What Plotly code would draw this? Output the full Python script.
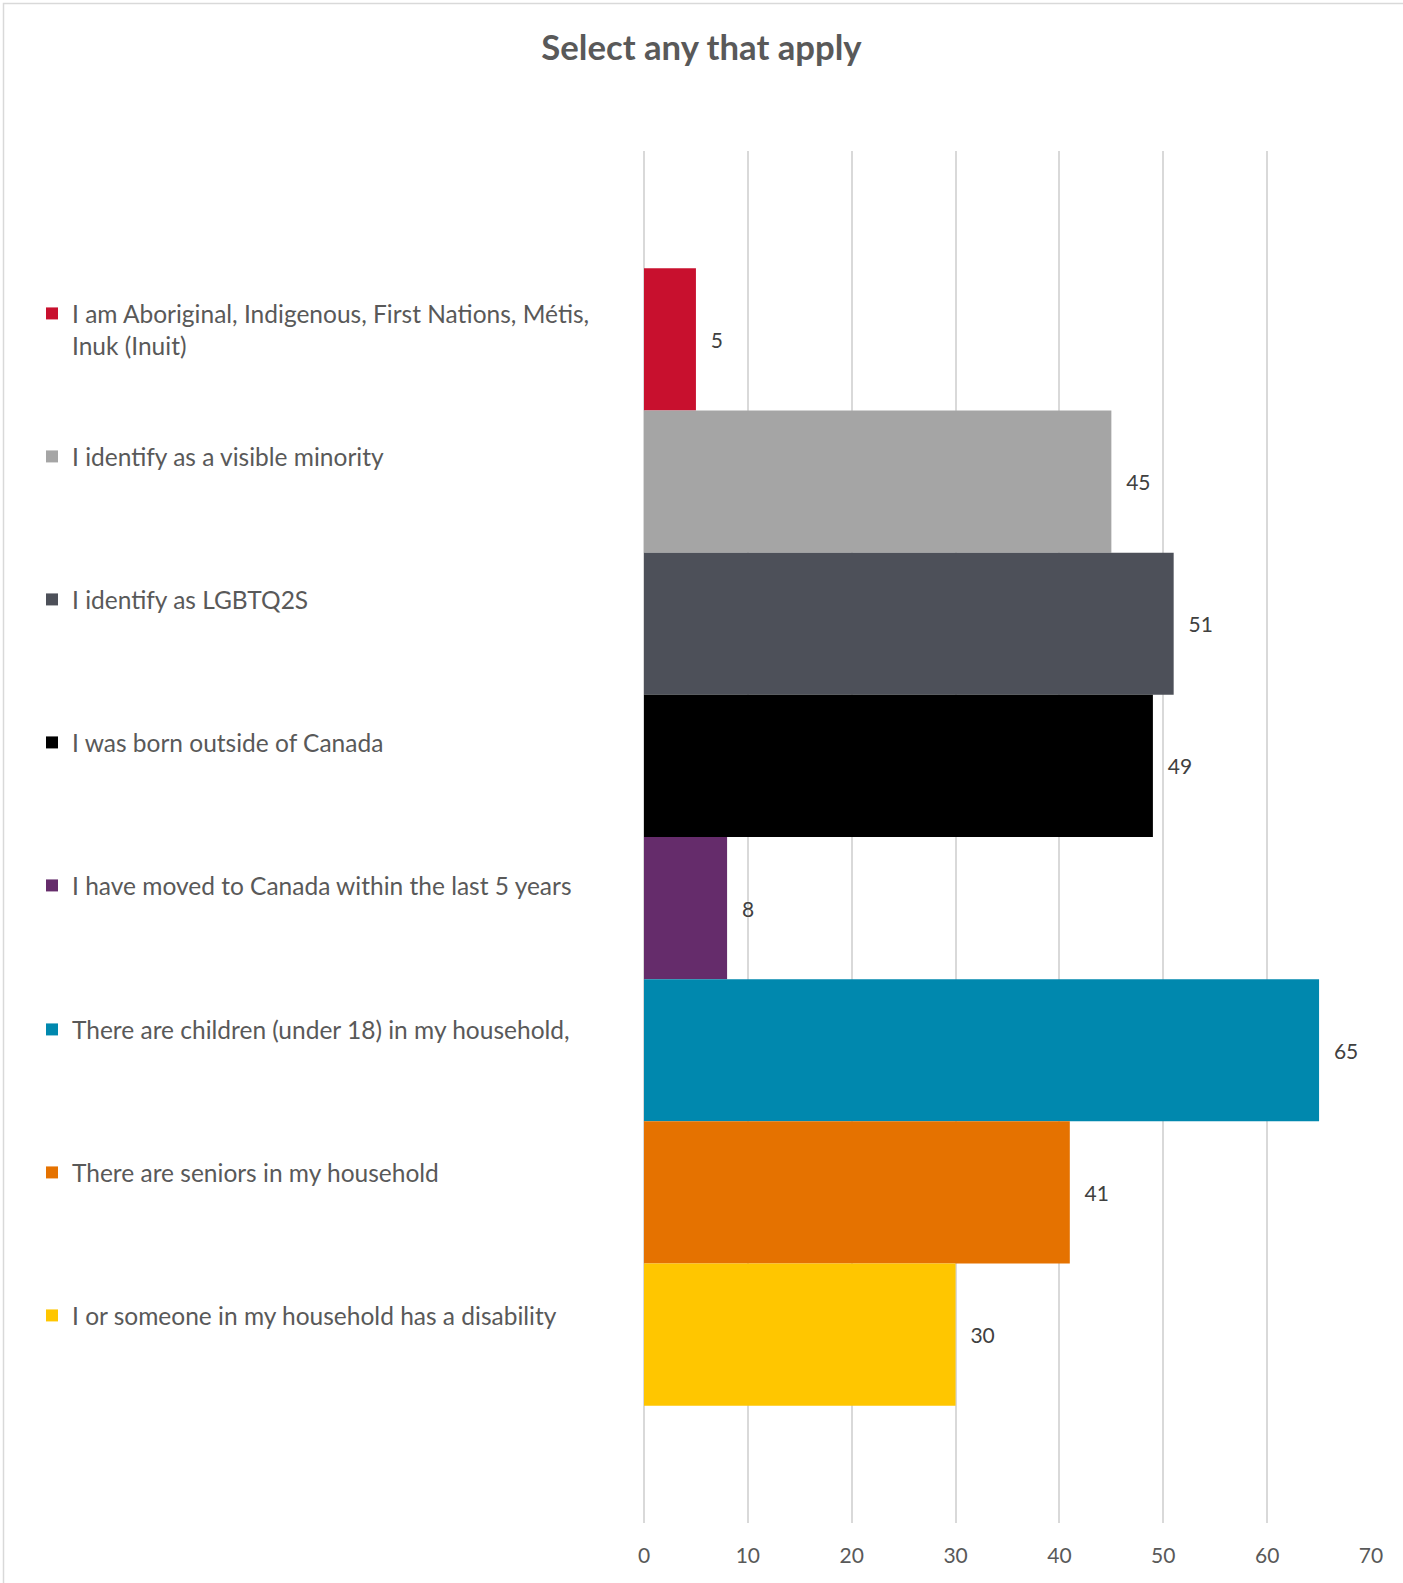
import plotly.graph_objects as go

# Survey responses: "Select any that apply"
categories = [
    "I am Aboriginal, Indigenous, First Nations, Métis,<br>Inuk (Inuit)",
    "I identify as a visible minority",
    "I identify as LGBTQ2S",
    "I was born outside of Canada",
    "I have moved to Canada within the last 5 years",
    "There are children (under 18) in my household,",
    "There are seniors in my household",
    "I or someone in my household has a disability",
]
counts = [5, 45, 51, 49, 8, 65, 41, 30]
colors = ["#C8102E", "#A5A5A5", "#4D5059", "#000000",
          "#652C6B", "#0088AE", "#E57200", "#FFC600"]
tick_values = [0, 10, 20, 30, 40, 50, 60, 70]

W, H = 1403, 1583
PLOT_L, PLOT_R, PLOT_T, PLOT_B = 644, 1371, 151, 1523

FONT = "Lato, 'Open Sans', sans-serif"
TEXT_GREY = "#595959"

fig = go.Figure()

legend_tops = [291, 434, 577, 720, 863, 1007, 1150, 1293]

for i, (name, val, col) in enumerate(zip(categories, counts, colors)):
    lg = "legend" if i == 0 else f"legend{i + 1}"
    fig.add_trace(go.Bar(
        orientation="h",
        y=["all"],
        x=[val],
        name=name,
        marker=dict(color=col, line=dict(width=0)),
        text=[val],
        texttemplate="\u2002\u200a%{x}",
        textposition="outside",
        textfont=dict(family=FONT, size=21, color="#404040"),
        cliponaxis=False,
        legend=lg,
        showlegend=True,
        hoverinfo="x+name",
    ))

layout_legends = {}
for i, top in enumerate(legend_tops):
    key = "legend" if i == 0 else f"legend{i + 1}"
    layout_legends[key] = dict(
        xref="container", yref="container",
        x=32 / W, y=1 - top / H,
        xanchor="left", yanchor="top",
        bgcolor="rgba(0,0,0,0)",
        borderwidth=0,
        valign="top",
        font=dict(family=FONT, size=24.5, color=TEXT_GREY),
        itemclick=False, itemdoubleclick=False,
    )

fig.update_layout(
    width=W, height=H,
    margin=dict(l=PLOT_L, r=W - PLOT_R, t=PLOT_T, b=H - PLOT_B),
    paper_bgcolor="white",
    plot_bgcolor="white",
    barmode="group",
    bargap=0.171,
    bargroupgap=0,
    title=dict(
        text="<b>Select any that apply</b>",
        x=0.5, xanchor="center",
        y=1 - 48 / H, yanchor="middle",
        xref="container",
        font=dict(family=FONT, size=34.7, color=TEXT_GREY),
    ),
    xaxis=dict(
        range=[0, 70],
        tickvals=tick_values,
        showgrid=True, gridcolor="#D9D9D9", gridwidth=2,
        zeroline=True, zerolinecolor="#D9D9D9", zerolinewidth=2,
        showline=False,
        ticks="",
        ticklabelstandoff=18,
        tickfont=dict(family=FONT, size=21, color=TEXT_GREY),
        fixedrange=True,
    ),
    yaxis=dict(
        type="category",
        autorange="reversed",
        showticklabels=False,
        showgrid=False, zeroline=False, showline=False,
        fixedrange=True,
    ),
    showlegend=True,
    **layout_legends,
)

# thin chart-area border along the left and top edges
px = lambda v: (v - PLOT_L) / (PLOT_R - PLOT_L)
py = lambda v: (PLOT_B - v) / (PLOT_B - PLOT_T)
fig.add_shape(type="rect", xref="paper", yref="paper",
              x0=px(3.5), x1=px(W + 20), y0=py(H + 20), y1=py(3.5),
              line=dict(color="#D9D9D9", width=1.5), fillcolor="rgba(0,0,0,0)",
              layer="below")

fig.write_html("out.html")
